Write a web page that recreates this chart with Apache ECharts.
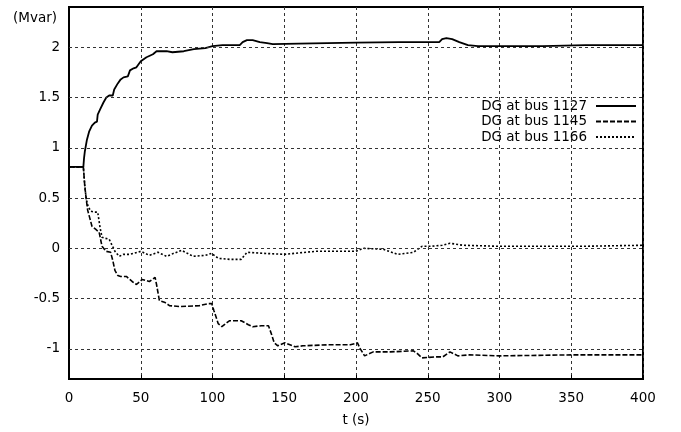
<!DOCTYPE html>
<html>
<head>
<meta charset="utf-8">
<script src="https://cdn.jsdelivr.net/npm/echarts@6/dist/echarts.min.js"></script>
<style>html,body{margin:0;padding:0;background:#fff}#c{width:681px;height:432px}</style>
</head>
<body>
<div id="c"></div>
<script>
const seriesNames = ['DG at bus 1127', 'DG at bus 1145', 'DG at bus 1166'];
const xTicks = [0, 50, 100, 150, 200, 250, 300, 350, 400];
const yTicks = [-1, -0.5, 0, 0.5, 1, 1.5, 2];

const t1127 = [0,10,10.5,11,12.5,14,16,18,19.5,20,21.6,24,26,28,30.5,31.5,34,36,38,41,42.5,45,47,48,50,54,58.5,61,63,68,72,80,87,95,100,107,119,121,124,128,133,138,142,160,180,200,230,255,258,260,263,267,272,278,285,300,330,360,400];
const v1127 = [0.81,0.81,0.9,0.96,1.08,1.16,1.22,1.25,1.26,1.33,1.38,1.45,1.5,1.52,1.52,1.58,1.64,1.68,1.7,1.71,1.77,1.79,1.8,1.82,1.86,1.9,1.93,1.96,1.96,1.96,1.95,1.96,1.98,1.99,2.01,2.02,2.02,2.05,2.07,2.07,2.05,2.04,2.03,2.035,2.04,2.045,2.05,2.05,2.05,2.08,2.09,2.08,2.05,2.02,2.01,2.01,2.01,2.02,2.02];

const t1145 = [0,10,11,12,13,14.5,16,18.5,21,23,25.8,29,30.5,32,34,36,40,44,47,51,56,60,61,63,67,70,77,91,97,99.5,101,104,106.5,110,112,120,125,128,134,139,141,143,145.5,150.5,157.5,163,180,196,201,203,206,212,224,240,243,246,255,260.5,265.5,271,279,300,350,400];
const v1145 = [0.81,0.81,0.62,0.49,0.38,0.3,0.22,0.19,0.16,0.02,-0.03,-0.04,-0.12,-0.22,-0.27,-0.28,-0.28,-0.33,-0.36,-0.31,-0.33,-0.29,-0.36,-0.52,-0.54,-0.57,-0.58,-0.57,-0.55,-0.55,-0.62,-0.75,-0.78,-0.74,-0.72,-0.72,-0.76,-0.78,-0.77,-0.77,-0.85,-0.94,-0.97,-0.94,-0.98,-0.97,-0.96,-0.96,-0.94,-1.0,-1.07,-1.03,-1.03,-1.02,-1.05,-1.09,-1.08,-1.08,-1.03,-1.07,-1.06,-1.07,-1.06,-1.06];

const t1166 = [0,10,11,12,13,15,18,20,21.6,23,25,28,30,32,35,38,42.5,50,56,62,68,73,78.5,86.5,95,99.4,104,112,120,124,135,150,172,200,205,219,229,240,246,252,260,265.5,274.5,300,358,400];
const v1166 = [0.81,0.81,0.62,0.49,0.43,0.37,0.36,0.36,0.21,0.11,0.1,0.09,0.03,-0.03,-0.08,-0.06,-0.06,-0.03,-0.07,-0.04,-0.08,-0.05,-0.02,-0.08,-0.07,-0.05,-0.1,-0.11,-0.11,-0.04,-0.05,-0.06,-0.03,-0.03,0.0,-0.01,-0.06,-0.04,0.02,0.02,0.03,0.05,0.03,0.02,0.02,0.03];

function pairs(t, v) { return t.map((x, i) => [x, v[i]]); }

const FONT = 'DejaVu Sans';
const FS = 13.5;
const chart = echarts.init(document.getElementById('c'), null, {renderer: 'canvas'});
const gridStyle = {color: '#333', width: 1, type: [3, 3]};

chart.setOption({
  animation: false,
  backgroundColor: '#fff',
  textStyle: {fontFamily: FONT, color: '#000'},
  graphic: [{
    type: 'text', left: 13, top: 11,
    style: {text: '(Mvar)', font: FS + 'px "' + FONT + '"', fill: '#000'}
  }],
  grid: {left: 69, right: 38, top: 7, bottom: 52, show: true, borderColor: '#000', borderWidth: 2, backgroundColor: 'transparent'},
  legend: {
    orient: 'vertical', right: 44, top: 99, align: 'right', padding: 0,
    itemWidth: 40, itemHeight: 14, itemGap: 1.5,
    itemStyle: {color: 'transparent', borderColor: 'transparent', borderWidth: 0},
    textStyle: {fontFamily: FONT, fontSize: FS, color: '#000', padding: [0, 4, 0, 0]},
    data: seriesNames
  },
  xAxis: {
    type: 'value', min: 0, max: 400, interval: 50,
    name: 't (s)', nameLocation: 'middle', nameGap: 34,
    nameTextStyle: {fontFamily: FONT, fontSize: FS, color: '#000'},
    axisLine: {show: true, onZero: false, lineStyle: {color: '#000', width: 2}},
    axisTick: {show: true, inside: true, length: 4, lineStyle: {color: '#000'}},
    axisLabel: {fontFamily: FONT, fontSize: FS, color: '#000', margin: 12,
      formatter: v => xTicks.includes(v) ? String(v) : ''},
    splitLine: {show: true, lineStyle: gridStyle}
  },
  yAxis: {
    type: 'value', min: -1.3, max: 2.4, interval: 0.1,
    axisLine: {show: true, onZero: false, lineStyle: {color: '#000', width: 2}},
    axisTick: {show: false},
    axisLabel: {fontFamily: FONT, fontSize: FS, color: '#000', margin: 9, showMinLabel: true, showMaxLabel: true,
      formatter: v => { const m = yTicks.find(y => Math.abs(y - v) < 1e-6); return m === undefined ? '' : String(m); }},
    splitLine: {show: false}
  },
  series: [
    {name: seriesNames[0], type: 'line', symbol: 'none', data: pairs(t1127, v1127),
     lineStyle: {color: '#000', width: 1.8, type: 'solid'}, itemStyle: {color: '#000'},
     markLine: {silent: true, symbol: 'none', label: {show: false}, lineStyle: gridStyle,
       data: yTicks.map(y => ({yAxis: y}))}},
    {name: seriesNames[1], type: 'line', symbol: 'none', data: pairs(t1145, v1145),
     lineStyle: {color: '#000', width: 1.6, type: [5, 2]}, itemStyle: {color: '#000'}},
    {name: seriesNames[2], type: 'line', symbol: 'none', data: pairs(t1166, v1166),
     lineStyle: {color: '#000', width: 1.6, type: [2, 2]}, itemStyle: {color: '#000'}}
  ]
});
</script>
</body>
</html>
